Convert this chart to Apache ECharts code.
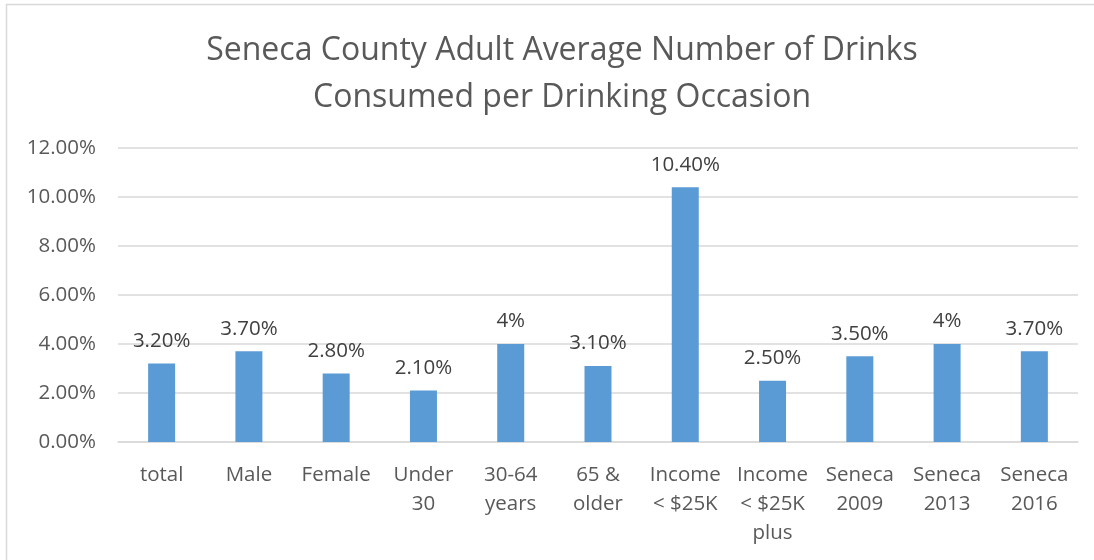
<!DOCTYPE html>
<html>
<head>
<meta charset="utf-8">
<script src="https://cdn.jsdelivr.net/npm/echarts@6/dist/echarts.min.js"></script>
<style>html,body{margin:0;padding:0;background:#fff}#c{width:1094px;height:560px}</style>
</head>
<body>
<div id="c"></div>
<script>
const categories = ['total', 'Male', 'Female', 'Under\n30', '30-64\nyears', '65 &\nolder', 'Income\n< $25K', 'Income\n< $25K\nplus', 'Seneca\n2009', 'Seneca\n2013', 'Seneca\n2016'];
const values = [3.2, 3.7, 2.8, 2.1, 4, 3.1, 10.4, 2.5, 3.5, 4, 3.7];
const valueLabels = ['3.20%', '3.70%', '2.80%', '2.10%', '4%', '3.10%', '10.40%', '2.50%', '3.50%', '4%', '3.70%'];
const yTicks = [0, 2, 4, 6, 8, 10, 12];

const FONT = 'Open Sans';
const chart = echarts.init(document.getElementById('c'));
chart.setOption({
  animation: false,
  backgroundColor: '#fff',
  title: {
    text: 'Seneca County Adult Average Number of Drinks\nConsumed per Drinking Occasion',
    left: 557, top: 22, textAlign: 'center',
    textStyle: { fontFamily: FONT, fontSize: 32, fontWeight: 'normal', color: '#595959', lineHeight: 47 }
  },
  graphic: [{
    type: 'rect', silent: true,
    shape: { x: 6.5, y: 4.5, width: 1100, height: 600 },
    style: { fill: 'none', stroke: '#D9D9D9', lineWidth: 1.5 }
  }],
  grid: { left: 118, right: 16, top: 148, bottom: 118, containLabel: false },
  xAxis: {
    type: 'category', data: categories,
    axisLine: { lineStyle: { color: '#D9D9D9', width: 1.5 } },
    axisTick: { show: false },
    axisLabel: { interval: 0, fontFamily: FONT, fontSize: 20.5, color: '#595959', lineHeight: 29, margin: 19 }
  },
  yAxis: {
    type: 'value', min: yTicks[0], max: yTicks[yTicks.length - 1], interval: 2,
    axisLine: { show: false }, axisTick: { show: false },
    splitLine: { lineStyle: { color: '#D9D9D9', width: 1.5 } },
    axisLabel: { fontFamily: FONT, fontSize: 20.5, color: '#595959', margin: 22, formatter: v => v.toFixed(2) + '%' }
  },
  series: [{
    type: 'bar', data: values, barWidth: 27,
    itemStyle: { color: '#5B9BD5' },
    label: {
      show: true, position: 'top', distance: 12,
      fontFamily: FONT, fontSize: 20.5, color: '#404040',
      formatter: p => valueLabels[p.dataIndex]
    }
  }]
});
</script>
</body>
</html>
